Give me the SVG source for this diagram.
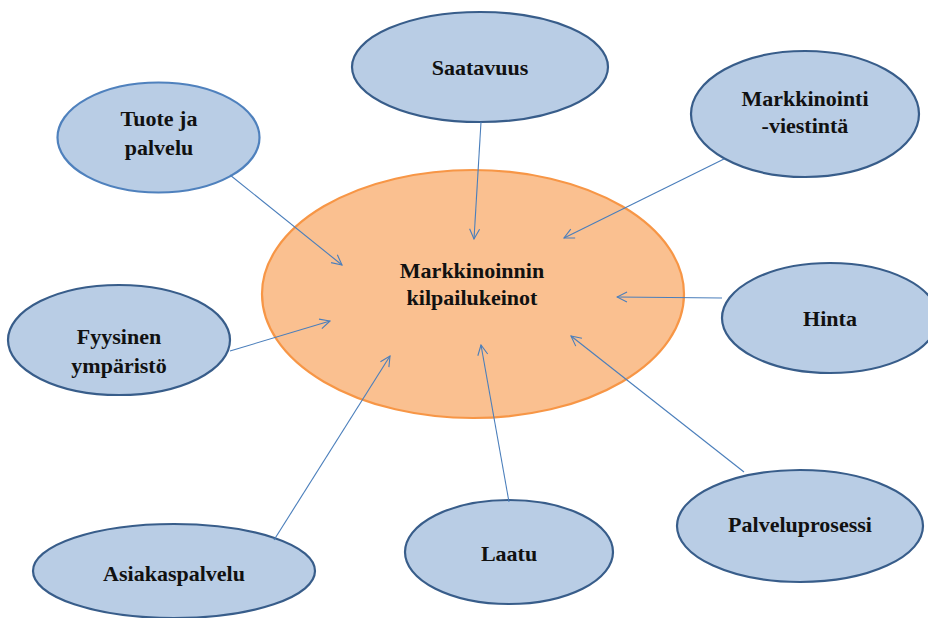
<svg xmlns="http://www.w3.org/2000/svg" width="928" height="618" viewBox="0 0 928 618">
<defs>
<style>
.n{fill:#B9CDE5;stroke:#385D8A;stroke-width:2.2}
.n2{fill:#B9CDE5;stroke:#4F81BD;stroke-width:2.2}
.c{fill:#FAC090;stroke:#F79646;stroke-width:2.2}
.t{font-family:"Liberation Serif","DejaVu Serif",serif;font-weight:bold;font-size:22px;fill:#111;text-anchor:middle}
.e{stroke:#4A7EBB;stroke-width:1.1;fill:none;marker-end:url(#a)}
</style>
<marker id="a" viewBox="0 0 12 12" refX="11" refY="6" markerWidth="12" markerHeight="12" markerUnits="userSpaceOnUse" orient="auto">
<path d="M1,1 L11,6 L1,11" fill="none" stroke="#4A7EBB" stroke-width="1.1"/>
</marker>
</defs>
<rect width="928" height="618" fill="#fff"/>
<g id="center"><ellipse class="c" cx="473" cy="294" rx="211" ry="124"/>
<text class="t" x="472" y="278">Markkinoinnin</text><text class="t" x="472" y="305">kilpailukeinot</text></g>
<g id="tuote"><ellipse class="n2" cx="158.5" cy="137.5" rx="101" ry="55"/>
<text class="t" x="159" y="126">Tuote ja</text><text class="t" x="159" y="155">palvelu</text></g>
<g id="saatavuus"><ellipse class="n" cx="480" cy="67" rx="128" ry="55"/>
<text class="t" x="480" y="75">Saatavuus</text></g>
<g id="markkinointi"><ellipse class="n" cx="805" cy="114" rx="114" ry="63"/>
<text class="t" x="805" y="106">Markkinointi</text><text class="t" x="805" y="133">-viestintä</text></g>
<g id="hinta"><ellipse class="n" cx="830" cy="318" rx="108" ry="55"/>
<text class="t" x="830" y="326">Hinta</text></g>
<g id="fyysinen"><ellipse class="n" cx="119" cy="340" rx="111" ry="55"/>
<text class="t" x="119" y="344">Fyysinen</text><text class="t" x="119" y="373">ympäristö</text></g>
<g id="asiakaspalvelu"><ellipse class="n" cx="174" cy="571" rx="141" ry="47"/>
<text class="t" x="174" y="581">Asiakaspalvelu</text></g>
<g id="laatu"><ellipse class="n" cx="509" cy="552" rx="104" ry="52"/>
<text class="t" x="509" y="561">Laatu</text></g>
<g id="palveluprosessi"><ellipse class="n" cx="800" cy="526" rx="123" ry="56"/>
<text class="t" x="800" y="532">Palveluprosessi</text></g>
<g id="connectors">
<line class="e" x1="230" y1="175" x2="342" y2="265"/>
<line class="e" x1="481" y1="122" x2="474" y2="239"/>
<line class="e" x1="724" y1="159" x2="564" y2="238"/>
<line class="e" x1="722" y1="298" x2="617" y2="297"/>
<line class="e" x1="230" y1="351" x2="330" y2="321"/>
<line class="e" x1="274" y1="540" x2="390" y2="356"/>
<line class="e" x1="509" y1="502" x2="481" y2="345"/>
<line class="e" x1="744" y1="472" x2="571" y2="336"/>
</g>
</svg>
